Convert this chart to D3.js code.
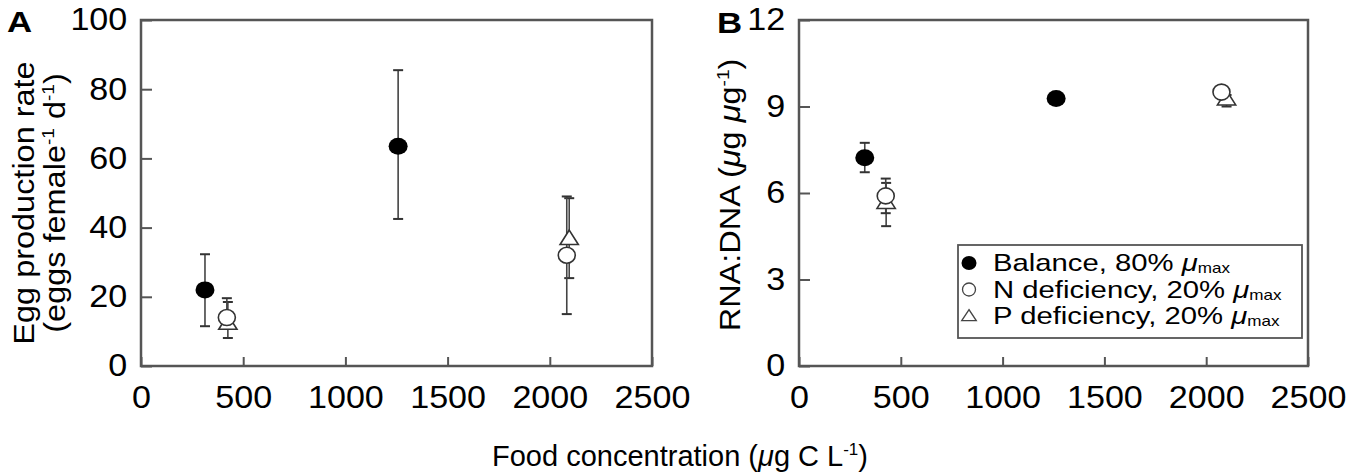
<!DOCTYPE html>
<html lang="en">
<head>
<meta charset="UTF-8">
<title>Egg production and RNA:DNA vs food concentration</title>
<script src="https://d3js.org/d3.v7.min.js"></script>
<style>
  body { margin: 0; background: #fff; }
  svg text { font-family: "Liberation Sans", Arial, sans-serif; fill: #000; }
</style>
</head>
<body>
<script>
    // tick values
    const foodTicks = [0, 500, 1000, 1500, 2000, 2500];
    const eggTicks = [0, 20, 40, 60, 80, 100];
    const rnaTicks = [0, 3, 6, 9, 12];

    // each row: [food, mean, low, high]
    const eggBalance = [[313, 22, 11.5, 32.3], [1258, 63.5, 42.5, 85.5]];
    const eggNdef = [[420, 14, 10.7, 19.6], [2083, 32, 15, 49]];
    const eggPdef = [[425, 12, 8.1, 18.5], [2095, 36.5, 25.4, 48.5]];

    const rnaBalance = [[323, 7.22, 6.72, 7.74], [1263, 9.28, 9.15, 9.4]];
    const rnaNdef = [[426, 5.9, 5.3, 6.5], [2075, 9.5, 9.35, 9.65]];
    const rnaPdef = [[428, 5.63, 4.85, 6.35], [2100, 9.22, 9.0, 9.4]];

    const legendLabels = ["Balance, 80% ", "N deficiency, 20% ", "P deficiency, 20% "];
    const legendShapes = ["fill", "circle", "triangle"];

    const W = 1350, H = 476;
    const TICK_FS = 31, TICK_SX = 1.1;
    const LINE = "#555";

    const svg = d3.select("body").append("svg").attr("width", W).attr("height", H);

    // text placed through a transform so it can be widened a little like the scan
    function txt(x, y, fs, sx, rot) {
        return svg.append("text")
            .attr("transform", `translate(${x},${y}) rotate(${rot || 0}) scale(${sx},1)`)
            .style("font-size", fs + "px");
    }

    function marker(g, shape, cx, cy) {
        if (shape === "fill") {
            g.append("ellipse").attr("cx", cx).attr("cy", cy).attr("rx", 9.5).attr("ry", 8.5)
                .attr("fill", "#000");
        } else if (shape === "circle") {
            g.append("ellipse").attr("cx", cx).attr("cy", cy).attr("rx", 8.5).attr("ry", 8)
                .attr("fill", "#fff").attr("stroke", "#333").attr("stroke-width", 1.6);
        } else {
            g.append("path").attr("d", d3.symbol(d3.symbolTriangle, 120)())
                .attr("transform", `translate(${cx},${cy}) scale(1.1,1)`)
                .attr("fill", "#fff").attr("stroke", "#333").attr("stroke-width", 1.5);
        }
    }

    function panel(x0, x1, yDom, yTicks, series) {
        const x = d3.scaleLinear().domain([0, 2500]).range([x0, x1]);
        const y = d3.scaleLinear().domain(yDom).range([366, 20]);
        const g = svg.append("g");

        const ax = g.append("g").attr("transform", "translate(0,366)")
            .call(d3.axisBottom(x).tickValues(foodTicks).tickFormat(d3.format("d"))
                .tickSizeInner(-9).tickSizeOuter(0).tickPadding(20));
        const ay = g.append("g").attr("transform", `translate(${x0},0)`)
            .call(d3.axisLeft(y).tickValues(yTicks).tickFormat(d3.format("d"))
                .tickSizeInner(-11).tickSizeOuter(0).tickPadding(12.5));
        [ax, ay].forEach(a => {
            a.select(".domain").remove();
            a.selectAll(".tick line").attr("stroke", LINE).attr("stroke-width", 2);
            a.selectAll(".tick text").style("font-size", TICK_FS + "px")
                .style("font-family", '"Liberation Sans", Arial, sans-serif')
                .attr("fill", "#000").attr("transform", `scale(${TICK_SX},1)`);
        });

        g.append("rect").attr("x", x0).attr("y", 20).attr("width", x1 - x0).attr("height", 346)
            .attr("fill", "none").attr("stroke", LINE).attr("stroke-width", 2.5);

        // error bars first
        series.forEach(s => {
            s.data.forEach(d => {
                const cx = x(d[0]);
                g.append("line").attr("x1", cx).attr("x2", cx).attr("y1", y(d[2])).attr("y2", y(d[3]))
                    .attr("stroke", "#444").attr("stroke-width", 1.6);
                [d[2], d[3]].forEach(v => {
                    g.append("line").attr("x1", cx - 5).attr("x2", cx + 5).attr("y1", y(v)).attr("y2", y(v))
                        .attr("stroke", "#333").attr("stroke-width", 2);
                });
            });
        });
        series.forEach(s => s.data.forEach(d => marker(g, s.shape, x(d[0]), y(d[1]))));
    }

    panel(141, 652, [0, 100], eggTicks, [
        {shape: "triangle", data: eggPdef},
        {shape: "circle", data: eggNdef},
        {shape: "fill", data: eggBalance}
    ]);
    panel(799, 1308, [0, 12], rnaTicks, [
        {shape: "triangle", data: rnaPdef},
        {shape: "circle", data: rnaNdef},
        {shape: "fill", data: rnaBalance}
    ]);

    // panel letters
    txt(7, 32, 29, 1.2).style("font-weight", "bold").text("A");
    txt(717, 33, 29, 1.2).style("font-weight", "bold").text("B");

    // y titles, panel A (two lines)
    txt(34, 203, 29, 1.12, -90).attr("text-anchor", "middle").text("Egg production rate");
    const t2 = txt(65, 203, 29, 1.12, -90).attr("text-anchor", "middle");
    t2.append("tspan").text("(eggs female");
    t2.append("tspan").attr("dy", -11).style("font-size", "17px").text("-1");
    t2.append("tspan").attr("dy", 11).text(" d");
    t2.append("tspan").attr("dy", -11).style("font-size", "17px").text("-1");
    t2.append("tspan").attr("dy", 11).text(")");

    // y title, panel B
    const tb = txt(740, 195, 29, 1.12, -90).attr("text-anchor", "middle");
    tb.append("tspan").text("RNA:DNA (");
    tb.append("tspan").style("font-style", "italic").text("μ");
    tb.append("tspan").text("g ");
    tb.append("tspan").style("font-style", "italic").text("μ");
    tb.append("tspan").text("g");
    tb.append("tspan").attr("dy", -11).style("font-size", "17px").text("-1");
    tb.append("tspan").attr("dy", 11).text(")");

    // shared x title
    const tx = txt(680, 466, 29, 1.0).attr("text-anchor", "middle");
    tx.append("tspan").text("Food concentration (");
    tx.append("tspan").style("font-style", "italic").text("μ");
    tx.append("tspan").text("g C L");
    tx.append("tspan").attr("dy", -11).style("font-size", "17px").text("-1");
    tx.append("tspan").attr("dy", 11).text(")");

    // legend in panel B
    svg.append("rect").attr("x", 958).attr("y", 245).attr("width", 344).attr("height", 93)
        .attr("fill", "#fff").attr("stroke", LINE).attr("stroke-width", 1.8);
    const lg = svg.append("g");
    legendLabels.forEach((lab, i) => {
        const by = 271 + i * 26.5;
        if (legendShapes[i] === "fill") {
            lg.append("ellipse").attr("cx", 969).attr("cy", by - 8).attr("rx", 7.5).attr("ry", 7).attr("fill", "#000");
        } else if (legendShapes[i] === "circle") {
            lg.append("ellipse").attr("cx", 969).attr("cy", by - 8).attr("rx", 6.5).attr("ry", 6.5)
                .attr("fill", "#fff").attr("stroke", "#444").attr("stroke-width", 1.3);
        } else {
            lg.append("path").attr("d", d3.symbol(d3.symbolTriangle, 70)())
                .attr("transform", `translate(969,${by - 7}) scale(1.15,1)`)
                .attr("fill", "#fff").attr("stroke", "#444").attr("stroke-width", 1.2);
        }
        const t = txt(993, by, 24, 1.22);
        t.append("tspan").text(lab);
        t.append("tspan").style("font-style", "italic").text("μ");
        t.append("tspan").attr("dy", 2).style("font-size", "14px").text("max");
    });
</script>
</body>
</html>
